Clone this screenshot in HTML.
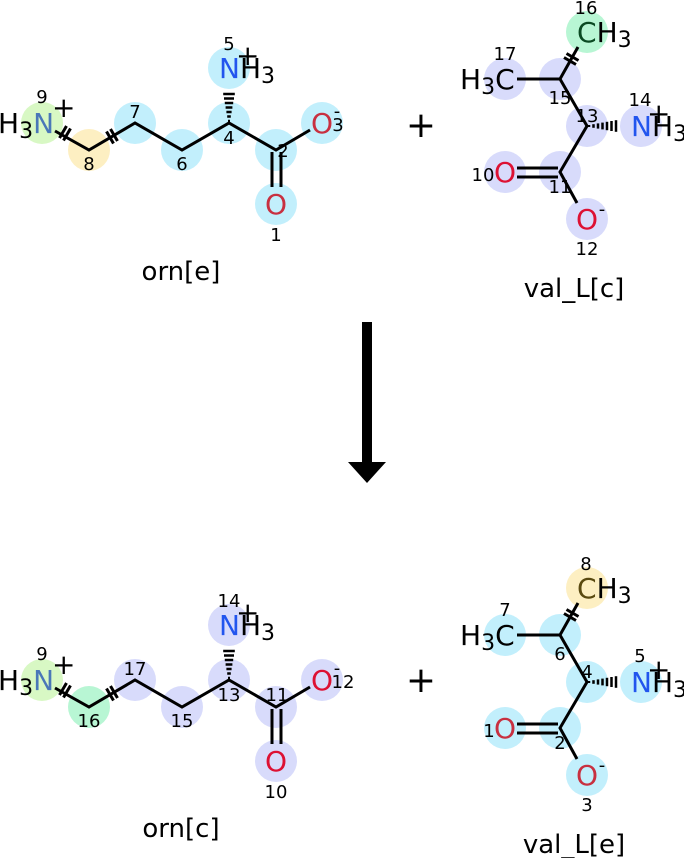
<!DOCTYPE html>
<html><head><style>
html,body{margin:0;padding:0;background:#fff;}
svg{display:block;font-family:"DejaVu Sans","Liberation Sans",sans-serif;}
</style></head><body>
<svg width="684" height="858" viewBox="0 0 684 858">
<defs>
<g id="hashV">
 <line x1="-1" y1="0" x2="1" y2="0"/><line x1="-1.8" y1="-4.5" x2="1.8" y2="-4.5"/><line x1="-2.6" y1="-9" x2="2.6" y2="-9"/><line x1="-3.4" y1="-13.5" x2="3.4" y2="-13.5"/><line x1="-4.2" y1="-18" x2="4.2" y2="-18"/><line x1="-5" y1="-22.5" x2="5" y2="-22.5"/><line x1="-5.8" y1="-27" x2="5.8" y2="-27"/>
</g>
</defs>

<!-- ===== TOP LEFT orn[e] ===== -->
<g>
 <circle cx="42" cy="123" r="21" fill="#d8f8c4"/>
 <circle cx="89" cy="150" r="21" fill="#fdefc2"/>
 <circle cx="135" cy="123" r="21" fill="#c2effc"/>
 <circle cx="182" cy="150" r="21" fill="#c2effc"/>
 <circle cx="229" cy="123" r="21" fill="#c2effc"/>
 <circle cx="229" cy="68" r="21" fill="#c2effc"/>
 <circle cx="276" cy="150" r="21" fill="#c2effc"/>
 <circle cx="322" cy="123" r="21" fill="#c2effc"/>
 <circle cx="276" cy="204" r="21" fill="#c2effc"/>
 <g stroke="#000" stroke-width="3" fill="none">
  <polyline points="55,131 89,150 135,123 182,150 229,123 276,150 310,130"/>
  <line x1="272" y1="152" x2="272" y2="187"/><line x1="281" y1="152" x2="281" y2="187"/>
  <line x1="59.5" y1="138" x2="66.5" y2="126"/><line x1="63.5" y1="140.5" x2="70.5" y2="128.5"/>
  <line x1="106.5" y1="131.5" x2="113.5" y2="143.5"/><line x1="110.5" y1="129" x2="117.5" y2="141"/>
 </g>
 <g stroke="#000" stroke-width="2.5" transform="translate(229,121)"><use href="#hashV"/></g>
 <g font-size="28">
  <text x="-2" y="133" fill="#000">H<tspan font-size="22" dy="5">3</tspan><tspan dy="-5" fill="#4a77b8">N</tspan></text>
  <text x="219" y="78" fill="#2255ee">N<tspan fill="#000">H<tspan font-size="22" dy="5">3</tspan></tspan></text>
  <text x="311" y="133" fill="#c83040">O</text>
  <text x="265" y="214" fill="#c83040">O</text>
  <text x="52" y="117" fill="#000">+</text>
  <text x="236" y="65" fill="#000">+</text>
 </g>
 <g font-size="18" fill="#000" text-anchor="middle">
  <text x="42" y="103">9</text><text x="89" y="170">8</text><text x="135" y="118">7</text>
  <text x="182" y="170">6</text><text x="229" y="144">4</text><text x="229" y="50">5</text>
  <text x="283" y="157">2</text><text x="338" y="131">3</text><text x="337" y="117">-</text><text x="276" y="241">1</text>
 </g>
 <text x="181" y="280" font-size="26" text-anchor="middle">orn[e]</text>
</g>

<!-- ===== TOP RIGHT val_L[c] ===== -->
<g>
 <circle cx="587" cy="32" r="21" fill="#b8f6d4"/>
 <circle cx="505" cy="79" r="21" fill="#d8dbfb"/>
 <circle cx="560" cy="79" r="21" fill="#d8dbfb"/>
 <circle cx="587" cy="126" r="21" fill="#d8dbfb"/>
 <circle cx="641" cy="126" r="21" fill="#d8dbfb"/>
 <circle cx="560" cy="172" r="21" fill="#d8dbfb"/>
 <circle cx="505" cy="172" r="21" fill="#d8dbfb"/>
 <circle cx="587" cy="219" r="21" fill="#d8dbfb"/>
 <g stroke="#000" stroke-width="3" fill="none">
  <line x1="517" y1="79" x2="560" y2="79"/>
  <polyline points="578,47 560,79 587,126 560,172 577,203"/>
  <line x1="517" y1="168" x2="558" y2="168"/><line x1="517" y1="177" x2="558" y2="177"/>
  <line x1="564" y1="57.5" x2="576" y2="64.5"/><line x1="566.5" y1="53.5" x2="578.5" y2="60.5"/>
 </g>
 <g stroke="#000" stroke-width="2.5" transform="translate(589,126) rotate(90)"><use href="#hashV"/></g>
 <g font-size="28">
  <text x="577" y="42" fill="#0a4a22">C<tspan fill="#000">H<tspan font-size="22" dy="5">3</tspan></tspan></text>
  <text x="460" y="89" fill="#000">H<tspan font-size="22" dy="5">3</tspan><tspan dy="-5">C</tspan></text>
  <text x="631" y="136" fill="#2255ee">N<tspan fill="#000">H<tspan font-size="22" dy="5">3</tspan></tspan></text>
  <text x="494" y="182" fill="#dd1133">O</text>
  <text x="576" y="229" fill="#dd1133">O</text>
  <text x="647" y="123" fill="#000">+</text>
 </g>
 <g font-size="18" fill="#000" text-anchor="middle">
  <text x="586" y="14">16</text><text x="505" y="60">17</text><text x="560" y="104">15</text>
  <text x="587" y="122">13</text><text x="640" y="106">14</text><text x="560" y="193">11</text>
  <text x="483" y="181">10</text><text x="587" y="255">12</text><text x="602" y="215">-</text>
 </g>
 <text x="574" y="297" font-size="26" text-anchor="middle">val_L[c]</text>
</g>

<text x="421" y="137" font-size="36" text-anchor="middle">+</text>
<text x="421" y="692" font-size="36" text-anchor="middle">+</text>

<!-- Arrow -->
<rect x="362" y="322" width="10" height="142" fill="#000"/>
<polygon points="348,462 386,462 367,483" fill="#000"/>

<!-- ===== BOTTOM LEFT orn[c] ===== -->
<g transform="translate(0,557)">
 <circle cx="42" cy="123" r="21" fill="#d8f8c4"/>
 <circle cx="89" cy="150" r="21" fill="#b8f6d4"/>
 <circle cx="135" cy="123" r="21" fill="#d8dbfb"/>
 <circle cx="182" cy="150" r="21" fill="#d8dbfb"/>
 <circle cx="229" cy="123" r="21" fill="#d8dbfb"/>
 <circle cx="229" cy="68" r="21" fill="#d8dbfb"/>
 <circle cx="276" cy="150" r="21" fill="#d8dbfb"/>
 <circle cx="322" cy="123" r="21" fill="#d8dbfb"/>
 <circle cx="276" cy="204" r="21" fill="#d8dbfb"/>
 <g stroke="#000" stroke-width="3" fill="none">
  <polyline points="55,131 89,150 135,123 182,150 229,123 276,150 310,130"/>
  <line x1="272" y1="152" x2="272" y2="187"/><line x1="281" y1="152" x2="281" y2="187"/>
  <line x1="59.5" y1="138" x2="66.5" y2="126"/><line x1="63.5" y1="140.5" x2="70.5" y2="128.5"/>
  <line x1="106.5" y1="131.5" x2="113.5" y2="143.5"/><line x1="110.5" y1="129" x2="117.5" y2="141"/>
 </g>
 <g stroke="#000" stroke-width="2.5" transform="translate(229,121)"><use href="#hashV"/></g>
 <g font-size="28">
  <text x="-2" y="133" fill="#000">H<tspan font-size="22" dy="5">3</tspan><tspan dy="-5" fill="#4a77b8">N</tspan></text>
  <text x="219" y="78" fill="#2255ee">N<tspan fill="#000">H<tspan font-size="22" dy="5">3</tspan></tspan></text>
  <text x="311" y="133" fill="#dd1133">O</text>
  <text x="265" y="214" fill="#dd1133">O</text>
  <text x="52" y="117" fill="#000">+</text>
  <text x="236" y="65" fill="#000">+</text>
 </g>
 <g font-size="18" fill="#000" text-anchor="middle">
  <text x="42" y="103">9</text><text x="89" y="170">16</text><text x="135" y="118">17</text>
  <text x="182" y="170">15</text><text x="229" y="144">13</text><text x="229" y="50">14</text>
  <text x="277" y="144">11</text><text x="343" y="131">12</text><text x="337" y="117">-</text><text x="276" y="241">10</text>
 </g>
 <text x="181" y="280" font-size="26" text-anchor="middle">orn[c]</text>
</g>

<!-- ===== BOTTOM RIGHT val_L[e] ===== -->
<g transform="translate(0,556)">
 <circle cx="587" cy="32" r="21" fill="#fdefc2"/>
 <circle cx="505" cy="79" r="21" fill="#c2effc"/>
 <circle cx="560" cy="79" r="21" fill="#c2effc"/>
 <circle cx="587" cy="126" r="21" fill="#c2effc"/>
 <circle cx="641" cy="126" r="21" fill="#c2effc"/>
 <circle cx="560" cy="172" r="21" fill="#c2effc"/>
 <circle cx="505" cy="172" r="21" fill="#c2effc"/>
 <circle cx="587" cy="219" r="21" fill="#c2effc"/>
 <g stroke="#000" stroke-width="3" fill="none">
  <line x1="517" y1="79" x2="560" y2="79"/>
  <polyline points="578,47 560,79 587,126 560,172 577,203"/>
  <line x1="517" y1="168" x2="558" y2="168"/><line x1="517" y1="177" x2="558" y2="177"/>
  <line x1="564" y1="57.5" x2="576" y2="64.5"/><line x1="566.5" y1="53.5" x2="578.5" y2="60.5"/>
 </g>
 <g stroke="#000" stroke-width="2.5" transform="translate(589,126) rotate(90)"><use href="#hashV"/></g>
 <g font-size="28">
  <text x="577" y="42" fill="#5a4a10">C<tspan fill="#000">H<tspan font-size="22" dy="5">3</tspan></tspan></text>
  <text x="460" y="89" fill="#000">H<tspan font-size="22" dy="5">3</tspan><tspan dy="-5">C</tspan></text>
  <text x="631" y="136" fill="#2255ee">N<tspan fill="#000">H<tspan font-size="22" dy="5">3</tspan></tspan></text>
  <text x="494" y="182" fill="#c83040">O</text>
  <text x="576" y="229" fill="#c83040">O</text>
  <text x="647" y="123" fill="#000">+</text>
 </g>
 <g font-size="18" fill="#000" text-anchor="middle">
  <text x="586" y="14">8</text><text x="505" y="60">7</text><text x="560" y="104">6</text>
  <text x="587" y="122">4</text><text x="640" y="106">5</text><text x="560" y="193">2</text>
  <text x="489" y="181">1</text><text x="587" y="255">3</text><text x="602" y="215">-</text>
 </g>
 <text x="574" y="297" font-size="26" text-anchor="middle">val_L[e]</text>
</g>
</svg>
</body></html>
